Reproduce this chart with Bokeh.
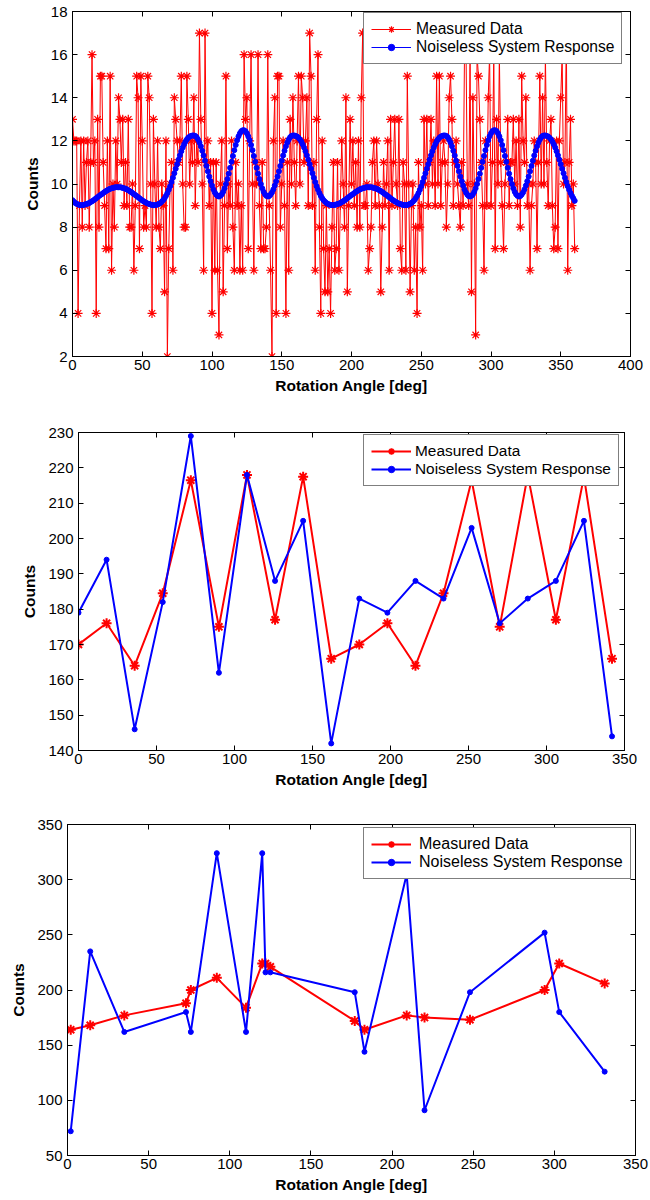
from bokeh.plotting import figure
from bokeh.layouts import column
from bokeh.models import Range1d, FixedTicker, LinearAxis, Legend, LegendItem
from bokeh.embed import file_html
from bokeh.resources import INLINE

FONT = "Liberation Sans"

# ---------------------------------------------------------------------------
# Panel 1: full rotation sampled every degree
# ---------------------------------------------------------------------------
angle_fine = list(range(361))

measured_fine = [
    13, 12, 12, 12, 4, 9, 12, 8, 12, 9,
    11, 12, 8, 11, 16, 11, 12, 4, 13, 8,
    15, 15, 11, 9, 7, 12, 7, 15, 6, 10,
    8, 12, 10, 14, 13, 11, 13, 9, 11, 9,
    13, 8, 8, 10, 6, 9, 15, 14, 7, 15,
    12, 8, 9, 8, 15, 14, 10, 4, 13, 10,
    8, 12, 8, 7, 10, 9, 5, 12, 2, 7,
    10, 11, 6, 14, 13, 12, 11, 12, 15, 10,
    8, 8, 15, 13, 10, 12, 11, 14, 9, 12,
    11, 17, 13, 10, 6, 17, 11, 12, 9, 11,
    4, 11, 6, 11, 6, 3, 10, 12, 5, 9,
    15, 7, 10, 9, 12, 8, 6, 11, 9, 10,
    6, 9, 6, 16, 13, 14, 7, 12, 16, 10,
    6, 11, 10, 16, 9, 7, 11, 7, 7, 8,
    16, 9, 6, 2, 12, 14, 4, 15, 15, 8,
    10, 12, 9, 4, 11, 6, 13, 10, 14, 11,
    9, 12, 15, 10, 15, 14, 11, 12, 14, 9,
    17, 15, 9, 11, 6, 13, 16, 8, 4, 12,
    7, 5, 9, 5, 7, 4, 8, 11, 6, 7,
    11, 6, 9, 12, 10, 8, 14, 5, 9, 13,
    10, 12, 9, 11, 8, 12, 8, 14, 17, 9,
    9, 10, 6, 7, 8, 11, 12, 9, 12, 10,
    9, 5, 8, 11, 9, 10, 12, 6, 13, 9,
    11, 13, 10, 9, 13, 7, 6, 11, 10, 6,
    15, 10, 5, 9, 10, 6, 8, 4, 11, 8,
    9, 6, 13, 10, 13, 9, 11, 13, 10, 12,
    9, 15, 10, 15, 9, 11, 12, 11, 8, 10,
    14, 15, 13, 9, 11, 12, 10, 9, 8, 11,
    9, 16, 17, 10, 9, 16, 5, 14, 10, 3,
    16, 15, 13, 11, 9, 6, 12, 9, 14, 16,
    9, 11, 16, 7, 13, 10, 16, 11, 9, 7,
    10, 11, 13, 9, 11, 11, 13, 10, 12, 9,
    13, 8, 15, 12, 11, 14, 9, 10, 6, 9,
    10, 12, 11, 7, 11, 15, 10, 14, 10, 16,
    11, 9, 12, 13, 9, 7, 8, 12, 7, 12,
    14, 16, 10, 11, 17, 6, 11, 13, 9, 10,
    7,
]

noiseless_fine = [
    9.25, 9.18, 9.12, 9.08, 9.05, 9.03, 9.02, 9.02, 9.03, 9.05,
    9.07, 9.09, 9.12, 9.16, 9.20, 9.24, 9.29, 9.34, 9.39, 9.44,
    9.49, 9.53, 9.58, 9.63, 9.67, 9.71, 9.75, 9.78, 9.80, 9.82,
    9.84, 9.85, 9.85, 9.85, 9.85, 9.84, 9.82, 9.80, 9.78, 9.75,
    9.71, 9.67, 9.63, 9.58, 9.53, 9.49, 9.44, 9.39, 9.34, 9.29,
    9.24, 9.20, 9.16, 9.12, 9.09, 9.07, 9.05, 9.03, 9.02, 9.02,
    9.03, 9.05, 9.08, 9.12, 9.18, 9.25, 9.34, 9.45, 9.58, 9.73,
    9.90, 10.09, 10.29, 10.50, 10.71, 10.92, 11.13, 11.33, 11.52, 11.69,
    11.84, 11.97, 12.07, 12.15, 12.20, 12.23, 12.25, 12.25, 12.23, 12.17,
    12.06, 11.92, 11.75, 11.54, 11.32, 11.08, 10.84, 10.59, 10.35, 10.13,
    9.93, 9.75, 9.61, 9.51, 9.44, 9.42, 9.45, 9.52, 9.64, 9.80,
    10.00, 10.23, 10.48, 10.75, 11.03, 11.30, 11.57, 11.81, 12.03, 12.21,
    12.35, 12.45, 12.49, 12.49, 12.45, 12.35, 12.21, 12.03, 11.81, 11.57,
    11.30, 11.03, 10.75, 10.48, 10.23, 10.00, 9.80, 9.64, 9.52, 9.45,
    9.42, 9.44, 9.51, 9.61, 9.75, 9.93, 10.13, 10.35, 10.59, 10.84,
    11.08, 11.32, 11.54, 11.75, 11.92, 12.06, 12.17, 12.23, 12.25, 12.25,
    12.23, 12.20, 12.15, 12.07, 11.97, 11.84, 11.69, 11.52, 11.33, 11.13,
    10.92, 10.71, 10.50, 10.29, 10.09, 9.90, 9.73, 9.58, 9.45, 9.34,
    9.25, 9.18, 9.12, 9.08, 9.05, 9.03, 9.02, 9.02, 9.03, 9.05,
    9.07, 9.09, 9.12, 9.16, 9.20, 9.24, 9.29, 9.34, 9.39, 9.44,
    9.49, 9.53, 9.58, 9.63, 9.67, 9.71, 9.75, 9.78, 9.80, 9.82,
    9.84, 9.85, 9.85, 9.85, 9.85, 9.84, 9.82, 9.80, 9.78, 9.75,
    9.71, 9.67, 9.63, 9.58, 9.53, 9.49, 9.44, 9.39, 9.34, 9.29,
    9.24, 9.20, 9.16, 9.12, 9.09, 9.07, 9.05, 9.03, 9.02, 9.02,
    9.03, 9.05, 9.08, 9.12, 9.18, 9.25, 9.34, 9.45, 9.58, 9.73,
    9.90, 10.09, 10.29, 10.50, 10.71, 10.92, 11.13, 11.33, 11.52, 11.69,
    11.84, 11.97, 12.07, 12.15, 12.20, 12.23, 12.25, 12.25, 12.23, 12.17,
    12.06, 11.92, 11.75, 11.54, 11.32, 11.08, 10.84, 10.59, 10.35, 10.13,
    9.93, 9.75, 9.61, 9.51, 9.44, 9.42, 9.45, 9.52, 9.64, 9.80,
    10.00, 10.23, 10.48, 10.75, 11.03, 11.30, 11.57, 11.81, 12.03, 12.21,
    12.35, 12.45, 12.49, 12.49, 12.45, 12.35, 12.21, 12.03, 11.81, 11.57,
    11.30, 11.03, 10.75, 10.48, 10.23, 10.00, 9.80, 9.64, 9.52, 9.45,
    9.42, 9.44, 9.51, 9.61, 9.75, 9.93, 10.13, 10.35, 10.59, 10.84,
    11.08, 11.32, 11.54, 11.75, 11.92, 12.06, 12.17, 12.23, 12.25, 12.25,
    12.23, 12.20, 12.15, 12.07, 11.97, 11.84, 11.69, 11.52, 11.33, 11.13,
    10.92, 10.71, 10.50, 10.29, 10.09, 9.90, 9.73, 9.58, 9.45, 9.34,
    9.22,
]

x_ticks_fine = [0, 50, 100, 150, 200, 250, 300, 350, 400]
y_ticks_fine = [2, 4, 6, 8, 10, 12, 14, 16, 18]

# ---------------------------------------------------------------------------
# Panel 2: 20 evenly spaced angles
# ---------------------------------------------------------------------------
angle_coarse = [0, 18, 36, 54, 72, 90, 108, 126, 144, 162,
                180, 198, 216, 234, 252, 270, 288, 306, 324, 342]
measured_coarse = [170, 176, 164, 184.5, 216.5, 175, 218, 177, 217.5, 166,
                   170, 176, 164, 184.5, 216.5, 175, 218, 177, 217.5, 166]
noiseless_coarse = [179, 194, 146, 182, 229, 162, 218, 188, 205, 142,
                    183, 179, 188, 183, 203, 176, 183, 188, 205, 144]

x_ticks_coarse = [0, 50, 100, 150, 200, 250, 300, 350]
y_ticks_coarse = [140, 150, 160, 170, 180, 190, 200, 210, 220, 230]

# ---------------------------------------------------------------------------
# Panel 3: 18 irregularly spaced angles
# ---------------------------------------------------------------------------
angle_sparse = [2, 14, 35, 73, 76, 92, 110, 120, 122, 125,
                177, 183, 209, 220, 248, 294, 303, 331]
measured_sparse = [164, 168, 177, 188, 200, 211, 184, 224, 224, 221,
                   172, 164, 177, 175, 173, 200, 224, 206]
noiseless_sparse = [72, 235, 162, 180, 162, 324, 162, 324, 216, 216,
                    198, 144, 305, 91, 198, 252, 180, 126]

x_ticks_sparse = [0, 50, 100, 150, 200, 250, 300, 350]
y_ticks_sparse = [50, 100, 150, 200, 250, 300, 350]

LEGEND_LABELS = ["Measured Data", "Noiseless System Response"]


def style_axis(ax, ticks, show_labels=True):
    ax.ticker = FixedTicker(ticks=ticks)
    ax.axis_line_color = "black"
    ax.axis_line_width = 1
    ax.major_tick_in = 5
    ax.major_tick_out = 0
    ax.major_tick_line_color = "black"
    ax.minor_tick_line_color = None
    ax.major_label_text_font = FONT
    if show_labels:
        ax.major_label_text_font_size = "15px"
        ax.major_label_text_color = "black"
    else:
        # mirror axis: ticks only
        ax.major_label_text_font_size = "1px"
        ax.major_label_text_color = None
        ax.major_label_standoff = 0
    ax.axis_label_text_font = FONT
    ax.axis_label_text_font_size = "15.5px"
    ax.axis_label_text_font_style = "bold"
    ax.axis_label_text_color = "black"


def make_panel(x, meas, model, xr, yr, xt, yt, borders, height,
               legend_pos, legend_font, legend_standoff, thin):
    left, right, top, bottom = borders
    p = figure(width=650, height=height,
               x_range=Range1d(*xr), y_range=Range1d(*yr),
               output_backend="svg", toolbar_location=None,
               min_border_left=left, min_border_right=right,
               min_border_top=top, min_border_bottom=bottom,
               frame_align=False,
               x_axis_label="Rotation Angle [deg]", y_axis_label="Counts")
    p.xgrid.visible = False
    p.ygrid.visible = False
    p.outline_line_color = "black"
    p.outline_line_width = 1
    p.background_fill_color = "white"
    p.border_fill_color = "white"

    style_axis(p.xaxis[0], xt)
    style_axis(p.yaxis[0], yt)
    p.xaxis[0].major_label_standoff = 3
    p.xaxis[0].axis_label_standoff = 4
    p.yaxis[0].major_label_standoff = 5
    p.yaxis[0].axis_label_standoff = 7

    ax_top = LinearAxis()
    style_axis(ax_top, xt, show_labels=False)
    p.add_layout(ax_top, "above")
    ax_right = LinearAxis()
    style_axis(ax_right, yt, show_labels=False)
    p.add_layout(ax_right, "right")

    if thin:
        r_line = p.line(x, meas, line_color="red", line_width=1)
        r_pts = p.scatter(x, meas, marker="asterisk", size=9,
                          line_color="red", line_width=1.2)
        b_line = p.line(x, model, line_color="blue", line_width=1)
        b_pts = p.scatter(x, model, marker="circle", size=5,
                          line_color="blue", fill_color="blue", line_width=1)
    else:
        r_line = p.line(x, meas, line_color="red", line_width=2)
        r_pts = p.scatter(x, meas, marker="asterisk", size=10,
                          line_color="red", line_width=2)
        b_line = p.line(x, model, line_color="blue", line_width=2)
        b_pts = p.scatter(x, model, marker="circle", size=5,
                          line_color="blue", fill_color="blue", line_width=1)

    legend = Legend(
        items=[LegendItem(label=LEGEND_LABELS[0], renderers=[r_line, r_pts]),
               LegendItem(label=LEGEND_LABELS[1], renderers=[b_line, b_pts])],
        location=legend_pos, margin=0, padding=7, spacing=0,
        glyph_width=40, glyph_height=16, label_height=16,
        label_standoff=legend_standoff,
        label_text_font=FONT, label_text_font_size=legend_font,
        label_text_color="black",
        border_line_color="black", border_line_width=1,
        background_fill_color="white", background_fill_alpha=1.0,
    )
    p.add_layout(legend)
    return p


p1 = make_panel(angle_fine, measured_fine, noiseless_fine,
                (0, 400), (2, 18), x_ticks_fine, y_ticks_fine,
                (72, 20, 11, 49), 405, (291, 292), "15.6px", 5, thin=True)
p2 = make_panel(angle_coarse, measured_coarse, noiseless_coarse,
                (0, 350), (140, 230), x_ticks_coarse, y_ticks_coarse,
                (78, 26, 27, 50), 395, (285, 264), "15.4px", 4, thin=False)
p3 = make_panel(angle_sparse, measured_sparse, noiseless_sparse,
                (0, 350), (50, 350), x_ticks_sparse, y_ticks_sparse,
                (67, 15, 24, 45), 400, (296, 276), "16px", 8, thin=False)

layout = column(p1, p2, p3, spacing=0)

open("out.html", "w").write(file_html(layout, INLINE))
